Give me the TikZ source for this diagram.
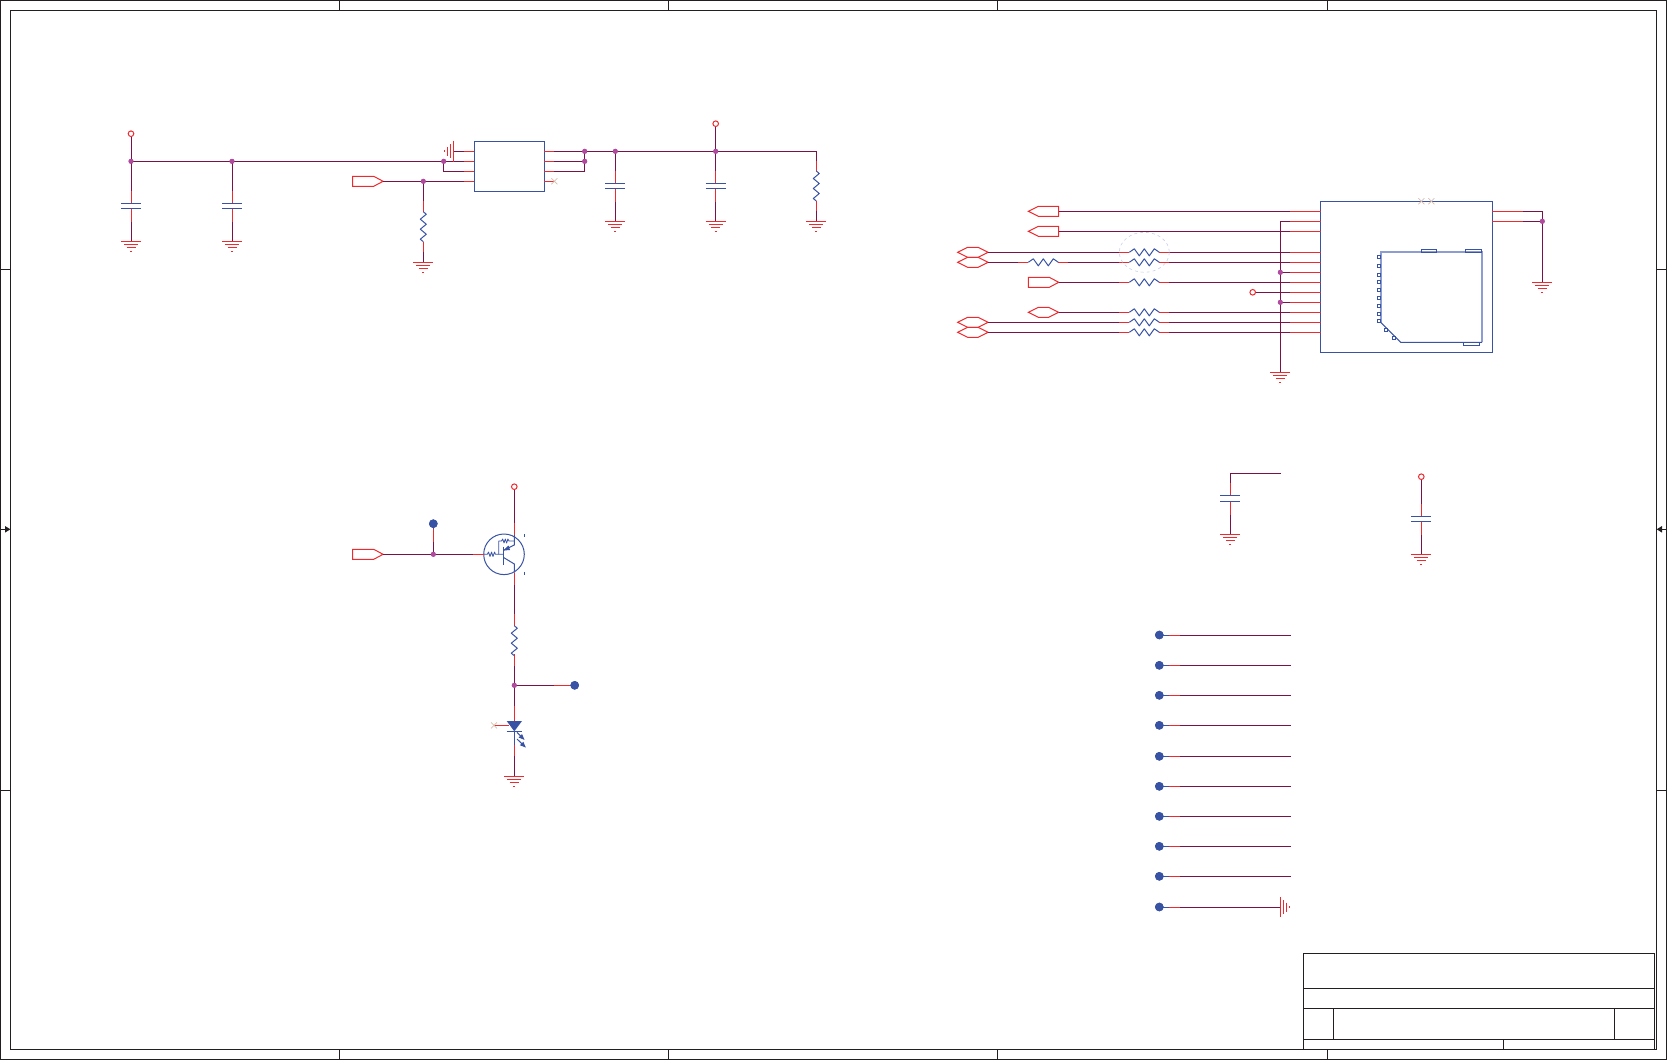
\documentclass[tikz,border=0pt]{standalone}
\usetikzlibrary{calc}
\definecolor{wirec}{HTML}{7A1248}
\definecolor{pinc}{HTML}{EE2A2E}
\definecolor{partc}{HTML}{3953A4}
\definecolor{juncc}{HTML}{B04A9E}
\definecolor{palec}{HTML}{8C9DD1}
\definecolor{dashc}{HTML}{C9CFE8}
\definecolor{noc}{HTML}{D8BFAE}
\definecolor{framec}{HTML}{231F20}
\tikzset{
  framel/.style={draw=framec,line width=1pt},
  wire/.style={draw=wirec,line width=1pt},
  pinl/.style={draw=pinc,line width=1pt},
  partl/.style={draw=partc,line width=1pt},
  junc/.style={circle,fill=juncc,inner sep=0pt,minimum size=5pt},
  tpdot/.style={circle,fill=partc,inner sep=0pt,minimum size=8.6pt},
  pwr/.style={circle,draw=pinc,fill=white,line width=1pt,inner sep=0pt,minimum size=5.6pt},
  chipbox/.style={draw=partc,line width=1pt,inner sep=0pt},
  portl/.style={draw=pinc,line width=1pt,fill=white},
}
\newcommand{\gndv}[3]{% name, x, y
  \coordinate (#1) at (#2,#3);
  \draw[pinl] (#2-10,#3)--(#2+10,#3) (#2-7,#3+3.2)--(#2+7,#3+3.2) (#2-4.5,#3+6.4)--(#2+4.5,#3+6.4) (#2-1,#3+10)--(#2+1,#3+10);}
\newcommand{\capv}[3]{% x, plate1, plate2
  \draw[pinl] (#1,#2-12.5)--(#1,#2) (#1,#3)--(#1,#3+13.3);
  \draw[partl] (#1-10,#2)--(#1+10,#2) (#1-10,#3)--(#1+10,#3);}
\newcommand{\resv}[2]{% x, ytop (30 long)
  \draw[partl,line join=round] (#1,#2)--(#1+3,#2+2.5)--(#1-3,#2+7.5)--(#1+3,#2+12.5)--(#1-3,#2+17.5)--(#1+3,#2+22.5)--(#1-3,#2+27.5)--(#1,#2+30);}
\newcommand{\resh}[2]{% xleft, y (30 long) with red stubs
  \draw[pinl] (#1-10,#2)--(#1,#2) (#1+30,#2)--(#1+40,#2);
  \draw[partl,line join=round] (#1,#2)--(#1+5,#2-3.5)--(#1+10,#2+3.5)--(#1+15,#2-3.5)--(#1+20,#2+3.5)--(#1+25,#2-3.5)--(#1+30,#2);}
\newcommand{\nocon}[2]{\draw[draw=noc,line width=.7pt] (#1-3,#2-3)--(#1+3,#2+3) (#1-3,#2+3)--(#1+3,#2-3);}
\newcommand{\portin}[3]{% name, x left, y: tip right
  \coordinate (#1) at (#2+30.4,#3);
  \draw[portl] (#2,#3-5)--(#2+21,#3-5)--(#2+30.4,#3)--(#2+21,#3+5)--(#2,#3+5)--cycle;}
\newcommand{\portout}[3]{% name, x left, y: tip left
  \coordinate (#1) at (#2+30.4,#3);
  \draw[portl] (#2+30.4,#3-5)--(#2+10,#3-5)--(#2,#3)--(#2+10,#3+5)--(#2+30.4,#3+5)--cycle;}
\newcommand{\portbi}[3]{% name, x left, y
  \coordinate (#1) at (#2+30.4,#3);
  \draw[portl] (#2,#3)--(#2+10,#3-5)--(#2+20.4,#3-5)--(#2+30.4,#3)--(#2+20.4,#3+5)--(#2+10,#3+5)--cycle;}
\begin{document}
\begin{tikzpicture}[x=1pt,y=-1pt]
\useasboundingbox (0,0) rectangle (1667,1060);
% ---------- sheet frame
\draw[framel] (0.5,0.5) rectangle (1666.3,1059.5);
\draw[framel] (10.4,10.5) rectangle (1656.7,1049.3);
\foreach \x in {339.6,668.8,997.4,1327.2}{
  \draw[framel] (\x,0.5)--(\x,10.5) (\x,1049.3)--(\x,1059.5);}
\foreach \y in {269,790}{
  \draw[framel] (0.5,\y)--(10.4,\y) (1656.7,\y)--(1666.3,\y);}
\draw[framel] (0.5,529.3)--(6,529.3);
\fill[framec] (5,526)--(10.4,529.3)--(5,532.6)--cycle;
\draw[framel] (1666.3,529.3)--(1661,529.3);
\fill[framec] (1662,526)--(1656.7,529.3)--(1662,532.6)--cycle;
% title block
\draw[framel] (1303.7,953.7) rectangle (1654.7,1049.3);
\draw[framel] (1303.7,988.3)--(1654.7,988.3) (1303.7,1008.3)--(1654.7,1008.3) (1303.7,1039.3)--(1654.7,1039.3);
\draw[framel] (1333.3,1008.3)--(1333.3,1039.3) (1614.3,1008.3)--(1614.3,1039.3) (1503.3,1039.3)--(1503.3,1049.3);

% ---------- regulator block
\node[chipbox,minimum width=70pt,minimum height=50pt] (u1) at (509.3,166.3) {};
\coordinate (pa) at (131,133.7);
\coordinate (la3) at (464.3,161.3); \coordinate (la4) at (464.3,171.3); \coordinate (la5) at (464.3,181.3);
\coordinate (ra1) at (554.3,151.3); \coordinate (ra2) at (554.3,161.3); \coordinate (ra3) at (554.3,171.3); \coordinate (ra4) at (554.3,181.3);
\coordinate (gu) at (453.3,151.3); \coordinate (lgu) at (464.3,151.3);
\node[junc] (j1) at (131,161.3) {};
\node[junc] (j2) at (232,161.3) {};
\node[junc] (j3) at (443.7,161.3) {};
\node[junc] (j4) at (423.3,181.3) {};
\node[junc] (j5) at (584.7,151.3) {};
\node[junc] (j6) at (584.7,161.3) {};
\node[junc] (j7) at (615.3,151.3) {};
\node[junc] (j8) at (715.7,151.3) {};
\coordinate (c816) at (816.3,151.3);
\coordinate (g1) at (131,241.3); \coordinate (g2) at (232,241.3); \coordinate (g3) at (423.3,262.3);
\coordinate (g4) at (615.3,221.3); \coordinate (g5) at (715.7,221.3); \coordinate (g6) at (816.3,221.3);
\coordinate (pb) at (715.7,123.7);
\portin{ena}{352.7}{181.3}
\draw[wire] (pa)--(131,191) (131,221.6)--(g1) (j1.center)--(j3.center)--(la3);
\draw[wire] (j2.center)--(232,191) (232,221.6)--(g2);
\draw[wire] (j3.center)--(443.7,171.3)--(la4);
\draw[wire] (ena)--(la5) (j4.center)--(423.3,201) (423.3,251.7)--(g3);
\draw[wire] (gu)--(lgu);
\draw[wire] (ra1)--(c816)--(816.3,161) (816.3,211)--(g6);
\draw[wire] (ra2)--(j6.center);
\draw[wire] (ra3)--(584.7,171.3)--(j5.center);
\draw[wire] (j7.center)--(615.3,171) (615.3,201.6)--(g4);
\draw[wire] (pb)--(715.7,171) (715.7,201.6)--(g5);
\foreach \y in {151.3,161.3,171.3,181.3}{
  \draw[pinl] (464.3,\y)--(474.3,\y) (544.3,\y)--(554.3,\y);}
\nocon{554.3}{181.3}
\capv{131}{203.3}{208.3}
\capv{232}{203.3}{208.3}
\capv{615.3}{183.3}{188.3}
\capv{715.7}{183.3}{188.3}
\draw[pinl] (423.3,201)--(423.3,211.7) (423.3,241.7)--(423.3,251.7);
\resv{423.3}{211.7}
\draw[pinl] (816.3,161)--(816.3,171) (816.3,201)--(816.3,211);
\resv{816.3}{171}
\gndv{g1a}{131}{241.3}
\gndv{g2a}{232}{241.3}
\gndv{g3a}{423.3}{262.3}
\gndv{g4a}{615.3}{221.3}
\gndv{g5a}{715.7}{221.3}
\gndv{g6a}{816.3}{221.3}
\draw[pinl] (453.3,140.7)--(453.3,161.7) (450,144.3)--(450,158.3) (447,146.8)--(447,155.8) (444.3,150.3)--(444.3,152.3);
\node[pwr] at (pa) {};
\node[pwr] at (pb) {};

% ---------- card connector
\node[chipbox,minimum width=171.6pt,minimum height=151pt] (j10) at (1406.5,276.8) {};
\portout{pc1}{1028.3}{211.3}
\portout{pc2}{1028.3}{231.3}
\portbi{pc3}{957.7}{252.3}
\portbi{pc4}{957.7}{262.3}
\portin{pc5}{1028.3}{282.3}
\portbi{pc6}{1028.3}{312.3}
\portbi{pc7}{957.7}{322.3}
\portbi{pc8}{957.7}{332.3}
\foreach \n/\y in {a/211.3,b/221.3,c/231.3,d/252.3,e/262.3,f/272.3,g/282.3,h/292.3,i/302.3,k/312.3,l/322.3,m/332.3}{
  \coordinate (pl\n) at (1290,\y);
}
\node[junc] (j11) at (1280.3,272.3) {};
\node[junc] (j12) at (1280.3,302.3) {};
\node[junc] (j13) at (1542.3,221.3) {};
\node[pwr] (pc) at (1252.7,292.3) {};
\coordinate (g7) at (1280.3,372.3);
\coordinate (g8) at (1542.3,282.3);
\coordinate (bus) at (1280.3,221.3);
\coordinate (rta) at (1522.7,211.3); \coordinate (rtb) at (1522.7,221.3);
\draw[wire] (pc1)--(pla) (pc2)--(plc) (pc)--(plh);
\draw[wire] (pc3)--(1119.3,252.3) (1169.3,252.3)--(pld);
\draw[wire] (pc4)--(1018.3,262.3) (1068.3,262.3)--(1119.3,262.3) (1169.3,262.3)--(ple);
\draw[wire] (pc5)--(1119.3,282.3) (1169.3,282.3)--(plg);
\draw[wire] (pc6)--(1119.3,312.3) (1169.3,312.3)--(plk);
\draw[wire] (pc7)--(1119.3,322.3) (1169.3,322.3)--(pll);
\draw[wire] (pc8)--(1119.3,332.3) (1169.3,332.3)--(plm);
\draw[wire] (plb)--(bus)--(g7);
\draw[wire] (j11.center)--(plf) (j12.center)--(pli);
\draw[wire] (rta)--(1542.3,211.3)--(g8) (rtb)--(j13.center);
\foreach \y in {211.3,221.3,231.3,252.3,262.3,272.3,282.3,292.3,302.3,312.3,322.3,332.3}{
  \draw[pinl] (1290,\y)--(1320.7,\y);}
\draw[pinl] (1492.3,211.3)--(1522.7,211.3) (1492.3,221.3)--(1522.7,221.3);
\foreach \y in {252.3,262.3,282.3,312.3,322.3,332.3}{\resh{1129.3}{\y}}
\resh{1028.3}{262.3}
\draw[dashc,line width=.6pt,dashed] (1144.3,252.3) ellipse (25 and 20);
\gndv{g7a}{1280.3}{372.3}
\gndv{g8a}{1542.3}{282.3}
\nocon{1421.3}{201.3}
\nocon{1431.3}{201.3}
% card outline
\draw[draw=palec,line width=2pt] (1381,322.7)--(1381,251.7)--(1482,251.7)--(1482,342.3);
\draw[partl] (1482,342.3)--(1400.7,342.3)--(1381,322.7);
\draw[partl] (1421.3,249.3) rectangle (1436.7,252.7);
\draw[partl] (1465.3,249.3) rectangle (1481.5,252.7);
\draw[partl] (1463.3,342.5) rectangle (1479.7,345.7);
\foreach \p in {{1379,257},{1379,266},{1379,275},{1379,282},{1379,290},{1379,298},{1379,306},{1379,314},{1379,321},{1386,330},{1394,338}}{
  \draw[partl,line width=.8pt,fill=white] ($(\p)+(-1.6,-1.6)$) rectangle ($(\p)+(1.6,1.6)$);}

% ---------- LED driver
\portin{pd}{352.7}{554.3}
\node[junc] (j20) at (433.3,554.3) {};
\node[tpdot] (tp1) at (433.3,523.7) {};
\node[draw=partc,circle,line width=1pt,inner sep=0pt,minimum size=40.6pt] (q1) at (504,554.3) {};
\coordinate (qb) at (484,554.3);
\coordinate (qc) at (514.3,535);
\coordinate (qe) at (514.3,572.7);
\node[pwr] (pe) at (514.3,486.7) {};
\node[junc] (j21) at (514.3,685.3) {};
\node[tpdot] (tp2) at (574.7,685.3) {};
\coordinate (g9) at (514.3,776);
\coordinate (ledt) at (514.3,721);
\coordinate (ledb) at (514.3,731.3);
\draw[wire] (pd)--(qb);
\draw[wire] (j20.center)--(tp1.center);
\draw[wire] (pe)--(qc);
\draw[wire] (qe)--(514.3,625.7);
\draw[wire] (514.3,654.3)--(j21.center)--(ledt);
\draw[wire] (j21.center)--(tp2.center);
\draw[wire] (ledb)--(g9);
\draw[pinl] (473.3,554.3)--(qb);
\draw[pinl] (433.3,529.3)--(433.3,541.7);
\draw[partl] (433.3,523.7)--(433.3,529.3);
\draw[pinl] (514.3,523.3)--(qc) (qe)--(514.3,585) (514.3,614)--(514.3,625.7) (514.3,654.3)--(514.3,665.7);
\draw[pinl] (514.3,705.7)--(ledt);
\draw[pinl] (554.3,685.3)--(570,685.3);
\draw[partl] (570,685.3)--(tp2.center);
\draw[partl] (ledb)--(514.3,745);
\draw[pinl] (514.3,745)--(514.3,755.7);
\resv{514.3}{625.7}
% transistor inner
\draw[partl,line width=.8pt,line join=round] (qb)--(487.3,554.3)--(488.5,552)--(490,556.5)--(491.5,552)--(493,556.5)--(494.5,552)--(495.5,554.3)--(503.3,554.3);
\draw[partl,line width=.8pt,line join=round] (498.7,554.3)--(498.7,541)--(501.5,541)--(502.7,539)--(504,543)--(505.3,539)--(506.6,543)--(507.9,539)--(509,541)--(514.3,541);
\draw[partl] (503.3,546.7)--(503.3,565);
\draw[partl] (qc)--(514.3,545)--(503.3,550.5);
\fill[partc] (503.3,550.5)--(508.5,545.5)--(510,550)--cycle;
\draw[partl] (503.3,557.3)--(514.3,564)--(qe);
\draw[partl] (524.3,534.2)--(524.3,537.2) (524.3,571.8)--(524.3,574.8);
% LED
\fill[partc] (506.7,721)--(522,721)--(514.3,731.3)--cycle;
\draw[partl] (506.6,731.3)--(522,731.3);
\draw[pinl] (494,725.3)--(509,725.3);
\nocon{494}{725.3}
\draw[partl] (517,732.3)--(523.7,739);
\fill[partc] (524.5,739.8)--(518.5,737.5)--(522,734)--cycle;
\draw[partl] (517,739)--(525,746.7);
\fill[partc] (525.8,747.5)--(519.8,745.2)--(523.3,741.7)--cycle;
\gndv{g9a}{514.3}{776}

% ---------- decoupling caps
\coordinate (ca) at (1280.7,473.3);
\coordinate (cb) at (1230.3,473.3);
\coordinate (g10) at (1230.3,534.3);
\coordinate (g11) at (1421.3,554.3);
\node[pwr] (pf) at (1421.3,476.7) {};
\draw[wire] (ca)--(cb)--(1230.3,483) (1230.3,514.6)--(g10);
\draw[wire] (pf)--(1421.3,503.8) (1421.3,534.6)--(g11);
\capv{1230.3}{495.3}{501.3}
\capv{1421.3}{516.3}{521.3}
\gndv{g10a}{1230.3}{534.3}
\gndv{g11a}{1421.3}{554.3}

% ---------- test points
\foreach \n/\y in {1/635,2/665.3,3/695.3,4/725.3,5/756.3,6/786.3,7/816.3,8/846.3,9/876.3}{
  \node[tpdot] (t\n) at (1159.3,\y) {};
  \coordinate (e\n) at (1290.7,\y);
  \draw[wire] (t\n.center)--(e\n);
  \draw[pinl] (1169.3,\y)--(1180,\y);
  \draw[partl] (t\n.center)--(1169.3,\y);
}
\node[tpdot] (t10) at (1159.3,907) {};
\coordinate (e10) at (1280.3,907);
\draw[wire] (t10.center)--(e10);
\draw[pinl] (1169.3,907)--(1180,907);
\draw[partl] (t10.center)--(1169.3,907);
\draw[pinl] (1280.3,897)--(1280.3,917) (1283.5,900)--(1283.5,914) (1286.6,902.5)--(1286.6,911.5) (1289.3,906)--(1289.3,908);
% ---------- dots over the wires
\foreach \j in {j1,j2,j3,j4,j5,j6,j7,j8,j11,j12,j13,j20,j21}{\node[junc] at (\j) {};}
\foreach \j in {tp1,tp2,t1,t2,t3,t4,t5,t6,t7,t8,t9,t10}{\node[tpdot] at (\j) {};}
\end{tikzpicture}
\end{document}
